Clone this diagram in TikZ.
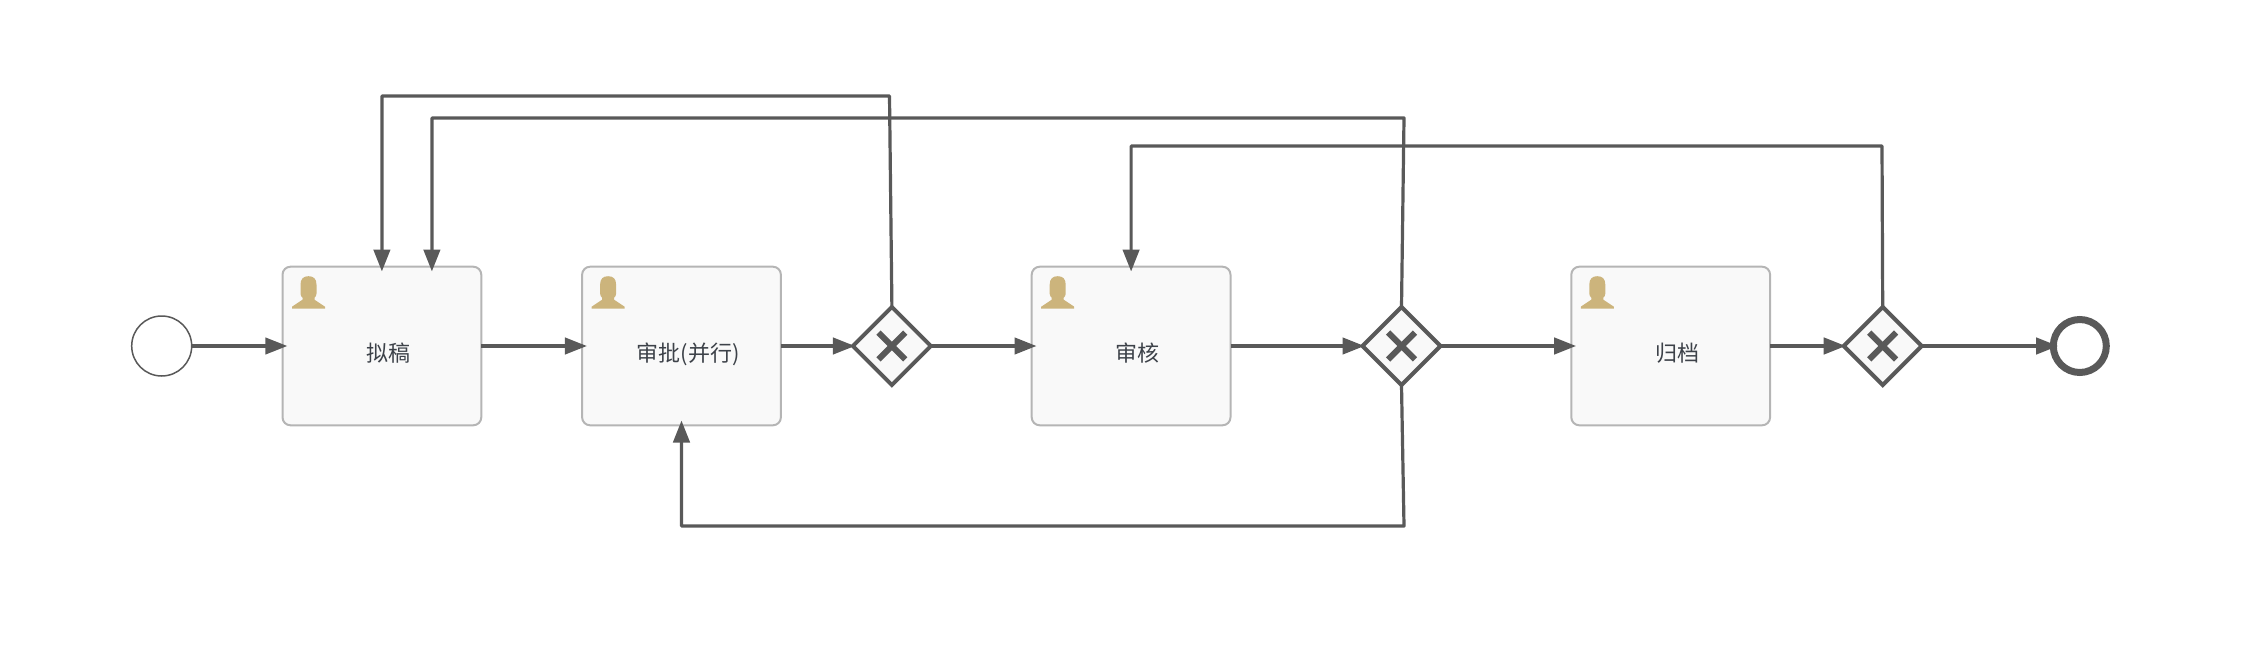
\documentclass[tikz,border=0pt]{standalone}
\usepackage{fontspec}
\newfontfamily\cjk{Noto Sans CJK SC}
\usetikzlibrary{arrows.meta,positioning,shapes.geometric}
\definecolor{flowgray}{HTML}{595959}
\definecolor{boxgray}{HTML}{B5B5B5}
\definecolor{boxfill}{HTML}{F9F9F9}
\definecolor{icongold}{HTML}{CCB47C}
\definecolor{textgray}{HTML}{3D4249}
\newcommand{\tasktitle}[1]{\hspace{6.5pt}#1}

\begin{document}
\begin{tikzpicture}[x=0.5pt, y=0.5pt]
	\tikzset{
		startevent/.style = {circle, draw=flowgray, fill=white, line width=0.75pt, minimum size=30pt, inner sep=0pt, outer sep=0pt},
		endevent/.style = {circle, draw=flowgray, fill=white, line width=3.5pt, minimum size=26.5pt, inner sep=0pt, outer sep=0pt},
		taskbox/.style = {draw=boxgray, fill=boxfill, line width=1pt, rounded corners=4pt, minimum width=99.4pt, minimum height=79.3pt, inner sep=0pt, outer sep=0pt, text=textgray, font=\cjk\fontsize{11}{13}\selectfont, text height=21.4pt, text depth=6.2pt},
		gateway/.style = {diamond, aspect=1, draw=flowgray, fill=boxfill, line width=2pt, minimum width=39pt, minimum height=39pt, inner sep=0pt, outer sep=0pt,
			path picture={
				\draw[flowgray, line width=3pt] (path picture bounding box.center) +(-6.7pt,-6.7pt) -- +(6.7pt,6.7pt);
				\draw[flowgray, line width=3pt] (path picture bounding box.center) +(-6.7pt,6.7pt) -- +(6.7pt,-6.7pt);
			}},
		flow/.style = {draw=flowgray, line width=1.6pt, line join=round, -{Triangle[length=11pt,width=8.2pt]}, shorten >=-2.4pt},
		togate/.style = {flow, shorten >=-1pt},
		usericon/.pic = {
			\fill[icongold] (9.5,-42) -- (9.5,-40) -- (20,-33) -- (20,-31) .. controls (19,-30) and (18,-29) .. (18,-27) -- (18,-18)
				.. controls (18,-12) and (21,-9.5) .. (26,-9.5) .. controls (31,-9.5) and (34,-12) .. (34,-18) -- (34,-27)
				.. controls (34,-29) and (33,-30) .. (32,-31) -- (32,-33) -- (42.5,-40) -- (42.5,-42) -- cycle;
		},
	}

	\useasboundingbox (0,0) rectangle (2244,-658);

	\node[startevent] (start) at (161.7,-346) {};
	\node[taskbox, right=45.4pt of start] (draft) {\tasktitle{拟稿}};
	\node[taskbox, right=50.4pt of draft] (approve) {\tasktitle{审批(并行)}};
	\node[gateway, right=36pt of approve] (gwa) {};
	\node[taskbox, right=50.4pt of gwa] (review) {\tasktitle{审核}};
	\node[gateway, right=66pt of review] (gwb) {};
	\node[taskbox, right=65.4pt of gwb] (archive) {\tasktitle{归档}};
	\node[gateway, right=36.8pt of archive] (gwc) {};
	\node[endevent, right=65.8pt of gwc] (finish) {};

	\foreach \t in {draft, approve, review, archive}
		{
			\pic at (\t.north west) {usericon};
		}

	% straight flows
	\foreach \a/\b in {start/draft, draft/approve, gwa/review, gwb/archive, gwc/finish}
		{
			\draw[flow] (\a.east) -- (\b.west);
		}
	\foreach \a/\b in {approve/gwa, review/gwb, archive/gwc}
		{
			\draw[togate] (\a.east) -- (\b.west);
		}

	% return flows
	\coordinate (backa) at (889.5,-96);
	\coordinate (backb) at (1404,-118);
	\coordinate (backc) at (1404,-526);
	\coordinate (backd) at (1882,-146);

	\draw[flow] (gwa.north) -- (backa) -- (backa -| draft.north) -- (draft.north);
	\draw[flow] (gwb.north) -- (backb) -- ([xshift=25pt]backb -| draft.north) -- ([xshift=25pt]draft.north);
	\draw[flow] (gwb.south) -- (backc) -- (backc -| approve.south) -- (approve.south);
	\draw[flow] (gwc.north) -- (backd) -- (backd -| review.north) -- (review.north);
\end{tikzpicture}
\end{document}
